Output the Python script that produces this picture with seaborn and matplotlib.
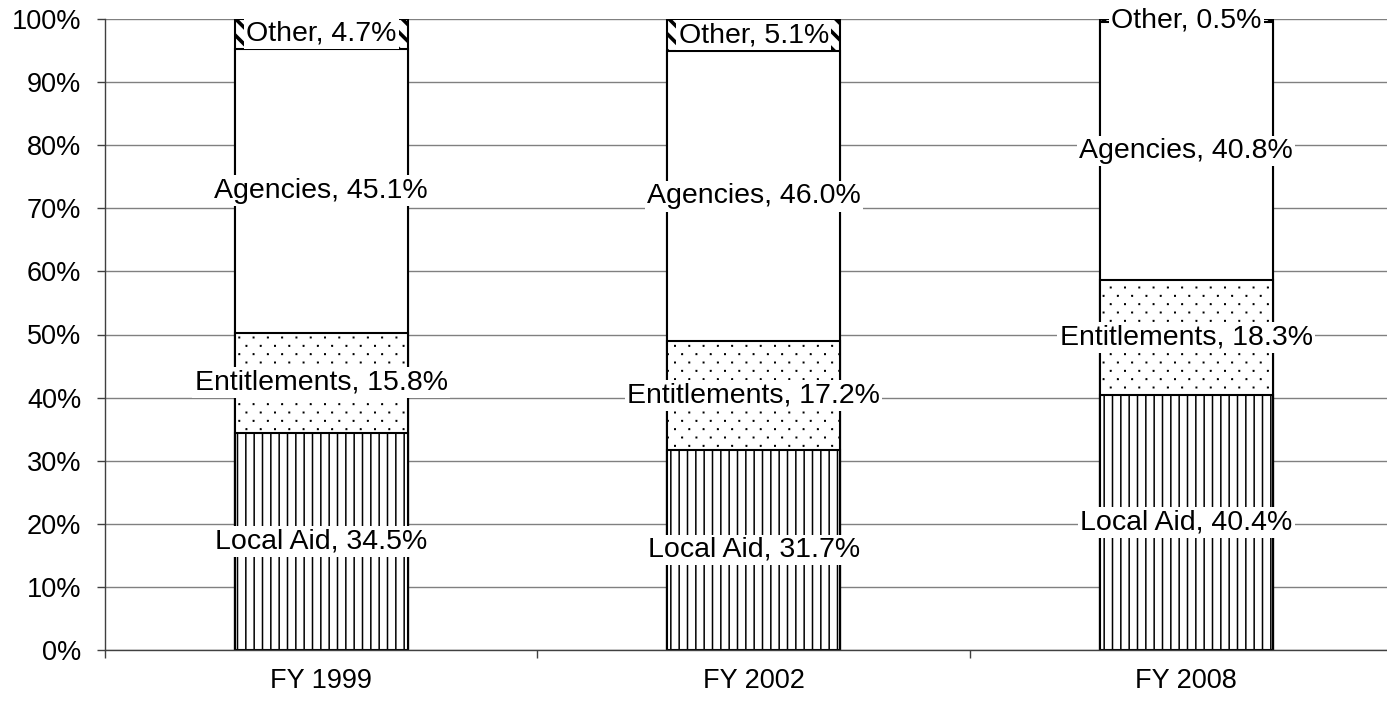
import numpy as np
import pandas as pd
import matplotlib
matplotlib.use("Agg")
import matplotlib.pyplot as plt
import matplotlib.ticker as mticker
import matplotlib.hatch as mhatch
from matplotlib.path import Path
import seaborn as sns

# ---- data -------------------------------------------------------------
years = ["FY 1999", "FY 2002", "FY 2008"]
components = ["Local Aid", "Entitlements", "Agencies", "Other"]
local_aid = [34.5, 31.7, 40.4]
entitlements = [15.8, 17.2, 18.3]
agencies = [45.1, 46.0, 40.8]
other = [4.7, 5.1, 0.5]


# ---- a fine, sparse staggered dot texture used for the "." hatch --------
class SparseDots(mhatch.HatchPatternBase):
    def __init__(self, hatch, density):
        n = hatch.count(".")
        self.cols = 7 * n
        self.rows = 12 * n
        self.num_vertices = 5 * self.cols * self.rows

    def set_vertices_and_codes(self, vertices, codes):
        s = 0.003
        square = np.array([[-s, -s], [s, -s], [s, s], [-s, s], [-s, -s]])
        sq_codes = [Path.MOVETO, Path.LINETO, Path.LINETO, Path.LINETO,
                    Path.CLOSEPOLY]
        parts = []
        for r in range(self.rows):
            shift = 0.25 if r % 2 == 0 else 0.75
            y = (r + 0.5) / self.rows
            for k in range(self.cols):
                parts.append(square + [(k + shift) / self.cols, y])
        vertices[:] = np.concatenate(parts)
        codes[:] = np.tile(sq_codes, self.rows * self.cols)


mhatch._hatch_types = [SparseDots if t is mhatch.SmallFilledCircles else t
                       for t in mhatch._hatch_types]

# ---- tidy table -------------------------------------------------------
values = {"Local Aid": local_aid, "Entitlements": entitlements,
          "Agencies": agencies, "Other": other}
rows = []
for i, yr in enumerate(years):
    total = sum(values[c][i] for c in components)
    cum = 0.0
    for c in components:
        share = values[c][i] / total * 100
        rows.append(dict(year=yr, component=c, value=values[c][i],
                         bottom=cum, top=cum + share))
        cum += share
df = pd.DataFrame(rows)

styles = {
    "Other": dict(hatch="\\\\", lw=2.6),
    "Agencies": dict(hatch=None, lw=1.0),
    "Entitlements": dict(hatch=".", lw=1.0),
    "Local Aid": dict(hatch="||", lw=1.1),
}

# ---- figure -----------------------------------------------------------
sns.set_style("white")
plt.rcParams["font.family"] = ["Liberation Sans", "DejaVu Sans"]
plt.rcParams["text.color"] = "black"
plt.rcParams["xtick.color"] = "black"
plt.rcParams["ytick.color"] = "black"

fig = plt.figure(figsize=(13.87, 7.02), dpi=100)
ax = fig.add_axes([105 / 1387, 52 / 702, 1297.5 / 1387, 631 / 702])

# stacked bars drawn as overlapping cumulative bars, topmost segment first
for comp in components[::-1]:
    st = styles[comp]
    sub = df[df.component == comp]
    n_before = len(ax.patches)
    with plt.rc_context({"hatch.linewidth": st["lw"], "hatch.color": "black"}):
        sns.barplot(data=sub, x="year", y="top", order=years, color="white",
                    saturation=1, edgecolor="black", linewidth=1.5,
                    width=0.4, hatch=st["hatch"], ax=ax, zorder=2)
    for p in ax.patches[n_before:]:
        if hasattr(p, "set_hatch_linewidth"):
            p.set_hatch_linewidth(st["lw"])

# value labels in the middle of every segment
for _, r in df.iterrows():
    i = years.index(r.year)
    ax.text(i, (r.bottom + r.top) / 2, f"{r.component}, {r.value:.1f}%",
            ha="center", va="center", fontsize=20.5, color="black", zorder=6,
            bbox=dict(facecolor="white", edgecolor="none", pad=1.6))

# ---- axes styling -----------------------------------------------------
ax.set_xlim(-0.5, 2.5)
ax.set_ylim(0, 100)
ax.set_xlabel("")
ax.set_ylabel("")
ax.set_yticks(np.arange(0, 101, 10))
ax.yaxis.set_major_formatter(mticker.PercentFormatter(xmax=100, decimals=0))
ax.yaxis.grid(True, color="#808080", linewidth=1.0)
ax.xaxis.grid(False)
ax.set_axisbelow(True)

ax.set_xticks(range(len(years)))
ax.set_xticklabels(years)
ax.set_xticks(np.arange(-0.5, len(years), 1.0), minor=True)

spine_color = "#404040"
for side in ("top", "right"):
    ax.spines[side].set_visible(False)
for side in ("left", "bottom"):
    ax.spines[side].set_color(spine_color)
    ax.spines[side].set_linewidth(1.0)

ax.tick_params(axis="y", which="major", direction="out", length=6, width=1,
               color=spine_color, labelcolor="black", labelsize=19.5, pad=11,
               left=True)
ax.tick_params(axis="x", which="major", length=0, labelcolor="black",
               labelsize=19.5, pad=13)
ax.tick_params(axis="x", which="minor", direction="out", length=6, width=1,
               color=spine_color, bottom=True)

fig.savefig("out.png", dpi=100, facecolor="white")
